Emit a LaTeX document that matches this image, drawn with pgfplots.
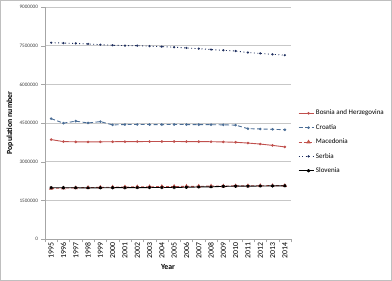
\documentclass[border=0pt]{standalone}
\usepackage{pgfplots}
\pgfplotsset{compat=1.18}
\usepackage{fontspec}
\setmainfont{Carlito}
\definecolor{bosred}{HTML}{C0504D}
\definecolor{croblue}{HTML}{4A6D96}
\definecolor{srbnavy}{HTML}{1F2F5F}
\definecolor{macfill}{HTML}{F2C200}
\begin{document}
\begin{tikzpicture}[x=1pt,y=1pt]
\useasboundingbox (-45,-42) rectangle (347,239);
\draw[black!25, line width=0.8pt] (-44.6,-41.6) rectangle (346.6,238.6);
\begin{axis}[
  at={(0,0)}, anchor=south west,
  scale only axis, width=246pt, height=232pt,
  xmin=1994.5, xmax=2014.5, ymin=0, ymax=9000000,
  ytick={0,1500000,3000000,4500000,6000000,7500000,9000000},
  xtick={1994.5,1995.5,1996.5,1997.5,1998.5,1999.5,2000.5,2001.5,2002.5,2003.5,2004.5,2005.5,2006.5,2007.5,2008.5,2009.5,2010.5,2011.5,2012.5,2013.5,2014.5},
  xticklabels={},
  extra x ticks={1995,1996,1997,1998,1999,2000,2001,2002,2003,2004,2005,2006,2007,2008,2009,2010,2011,2012,2013,2014},
  extra x tick style={major tick length=0pt, grid=none},
  scaled y ticks=false,
  /pgf/number format/fixed,
  /pgf/number format/1000 sep={},
  /pgf/number format/assume math mode=true,
  yticklabel style={font=\fontsize{5.2}{6}\selectfont, text=black!75},
  xticklabel style={rotate=90, anchor=east, font=\fontsize{7.8}{9}\selectfont, yshift=0pt},
  axis x line*=bottom, axis y line*=left,
  axis line style={black!35},
  tick style={black!35},
  tick align=outside,
  major tick length=3.5pt,
  ymajorgrids, grid style={black!22, line width=0.6pt},
  xlabel={\textbf{Year}},
  ylabel={\textbf{Population number}},
  label style={font=\fontsize{7.8}{9}\selectfont},
  xlabel style={at={(axis description cs:0.5,-0.1207)}, anchor=center},
  ylabel style={at={(axis description cs:-0.142,0.5)}, anchor=center},
  legend style={at={(1.028,0.418)}, anchor=west, draw=none, fill=none,
    font=\fontsize{7}{8}\selectfont, row sep=4pt, inner sep=0pt},
  legend cell align=left,
  legend image code/.code={\draw[#1] (0pt,0pt) -- (15pt,0pt); \draw[#1] plot coordinates {(10pt,0pt)};},
]
\addplot[bosred, line width=0.9pt, mark=*, mark size=0.8pt] coordinates {
(1995,3857000)(1996,3778000)(1997,3770000)(1998,3765000)(1999,3770000)
(2000,3774000)(2001,3777000)(2002,3780000)(2003,3781000)(2004,3782000)
(2005,3781000)(2006,3780000)(2007,3778000)(2008,3774000)(2009,3766000)
(2010,3752000)(2011,3722000)(2012,3683000)(2013,3632000)(2014,3572000)};
\addlegendentry{Bosnia and Herzegovina}
\addplot[croblue, line width=0.9pt, dash pattern=on 4pt off 2.5pt, mark=*, mark size=0.8pt, mark options={solid}] coordinates {
(1995,4669000)(1996,4494000)(1997,4572000)(1998,4501000)(1999,4554000)
(2000,4426000)(2001,4440000)(2002,4440000)(2003,4440000)(2004,4439000)
(2005,4442000)(2006,4440000)(2007,4436000)(2008,4434000)(2009,4429000)
(2010,4418000)(2011,4280000)(2012,4268000)(2013,4256000)(2014,4238000)};
\addlegendentry{Croatia}
\addplot[bosred, line width=0.9pt, dash pattern=on 3pt off 2pt, mark=triangle*, mark size=1.6pt, mark options={solid, fill=macfill, draw=bosred}] coordinates {
(1995,1963000)(1996,1975000)(1997,1985000)(1998,1995000)(1999,2003000)
(2000,2011000)(2001,2017000)(2002,2022000)(2003,2027000)(2004,2032000)
(2005,2037000)(2006,2041000)(2007,2046000)(2008,2051000)(2009,2055000)
(2010,2060000)(2011,2063000)(2012,2066000)(2013,2069000)(2014,2072000)};
\addlegendentry{Macedonia}
\addplot[srbnavy, line width=0.9pt, dash pattern=on 1pt off 2.5pt, mark=*, mark size=0.6pt, mark options={solid}] coordinates {
(1995,7617000)(1996,7600000)(1997,7588000)(1998,7567000)(1999,7540000)
(2000,7516000)(2001,7503000)(2002,7500000)(2003,7481000)(2004,7463000)
(2005,7441000)(2006,7412000)(2007,7382000)(2008,7350000)(2009,7321000)
(2010,7291000)(2011,7234000)(2012,7199000)(2013,7164000)(2014,7132000)};
\addlegendentry{Serbia}
\addplot[black, line width=0.9pt, mark=asterisk, mark size=1.6pt] coordinates {
(1995,1990000)(1996,1989000)(1997,1987000)(1998,1984000)(1999,1986000)
(2000,1990000)(2001,1992000)(2002,1995000)(2003,1996000)(2004,1997000)
(2005,2001000)(2006,2008000)(2007,2019000)(2008,2023000)(2009,2042000)
(2010,2050000)(2011,2050000)(2012,2056000)(2013,2059000)(2014,2062000)};
\addlegendentry{Slovenia}
\end{axis}
\end{tikzpicture}
\end{document}
